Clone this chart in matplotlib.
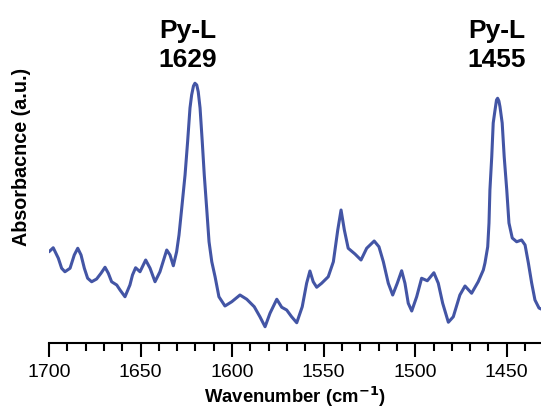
import matplotlib
matplotlib.use("Agg")
import matplotlib.pyplot as plt
from matplotlib.ticker import MultipleLocator
import matplotlib.transforms as mtransforms

plt.rcParams["font.family"] = ["Liberation Sans", "DejaVu Sans"]

# spectrum (wavenumber in cm-1, absorbance in a.u.)
wavenumber = [
    1700.0, 1697.7, 1694.9, 1693.1, 1691.3, 1688.5, 1686.2, 1684.3, 1682.5, 1680.7,
    1678.9, 1676.7, 1674.0, 1671.6, 1669.4, 1667.6, 1665.8, 1663.0, 1661.2, 1658.5,
    1655.8, 1654.4, 1652.7, 1650.3, 1647.2, 1644.8, 1642.1, 1639.4, 1635.7, 1633.9,
    1632.1, 1630.3, 1629.0, 1627.5, 1625.7, 1624.3, 1623.0, 1622.1, 1621.1, 1620.3,
    1619.3, 1618.5, 1617.5, 1616.3, 1615.2, 1613.9, 1612.6, 1611.1, 1609.3, 1607.2,
    1603.9, 1600.2, 1595.7, 1592.0, 1587.9, 1584.8, 1582.0, 1579.3, 1575.6, 1572.9,
    1570.2, 1567.5, 1564.7, 1561.7, 1559.3, 1557.5, 1555.7, 1553.8, 1551.1, 1547.5,
    1544.7, 1542.3, 1540.5, 1538.7, 1536.6, 1532.9, 1529.6, 1526.5, 1522.4, 1519.8,
    1517.4, 1514.7, 1512.3, 1509.8, 1507.4, 1505.6, 1503.8, 1501.9, 1499.2, 1496.5,
    1493.4, 1489.8, 1487.4, 1485.0, 1481.9, 1479.2, 1475.6, 1472.8, 1469.2, 1465.6,
    1462.8, 1461.9, 1460.4, 1459.7, 1459.2, 1458.2, 1457.4, 1456.4, 1455.6, 1455.0,
    1454.3, 1453.7, 1452.5, 1451.4, 1450.0, 1448.8, 1447.0, 1444.6, 1441.9, 1440.0,
    1438.2, 1436.4, 1434.6, 1432.4, 1431.3,
]
absorbance = [
    0.393, 0.409, 0.367, 0.327, 0.313, 0.327, 0.380, 0.407, 0.380, 0.327,
    0.287, 0.273, 0.284, 0.307, 0.331, 0.307, 0.273, 0.260, 0.240, 0.213,
    0.260, 0.300, 0.329, 0.313, 0.360, 0.327, 0.273, 0.313, 0.400, 0.380,
    0.337, 0.393, 0.460, 0.568, 0.700, 0.833, 0.968, 1.020, 1.056, 1.067,
    1.060, 1.033, 0.968, 0.833, 0.700, 0.568, 0.433, 0.353, 0.293, 0.213,
    0.176, 0.193, 0.220, 0.203, 0.173, 0.133, 0.093, 0.147, 0.203, 0.171,
    0.160, 0.133, 0.109, 0.173, 0.267, 0.316, 0.273, 0.251, 0.267, 0.293,
    0.353, 0.480, 0.560, 0.480, 0.407, 0.384, 0.360, 0.407, 0.436, 0.413,
    0.353, 0.267, 0.220, 0.267, 0.317, 0.267, 0.187, 0.156, 0.213, 0.287,
    0.277, 0.309, 0.267, 0.187, 0.111, 0.133, 0.220, 0.256, 0.227, 0.273,
    0.320, 0.348, 0.413, 0.508, 0.640, 0.773, 0.908, 0.960, 1.000, 1.007,
    0.996, 0.973, 0.908, 0.773, 0.640, 0.508, 0.448, 0.433, 0.440, 0.420,
    0.348, 0.268, 0.200, 0.168, 0.164,
]

peak_labels = ["Py-L\n1629", "Py-L\n1455"]
peak_positions = [1624.1, 1455.3]

fig = plt.figure(figsize=(5.41, 4.09), dpi=100)
ax = fig.add_axes([49 / 541, 66 / 409, 492 / 541, 343 / 409])

ax.plot(wavenumber, absorbance, color="#4355a5", lw=2.2,
        solid_joinstyle="round", solid_capstyle="round")

ax.set_xlim(1700, 1431.3)
ax.set_ylim(0.028, 1.4)

for s in ["top", "right", "left"]:
    ax.spines[s].set_visible(False)
ax.spines["bottom"].set_linewidth(1.5)
ax.set_yticks([])

ax.xaxis.set_major_locator(MultipleLocator(50))
ax.xaxis.set_minor_locator(MultipleLocator(10))
ax.tick_params(axis="x", which="major", direction="out", length=10, width=1.5,
               labelsize=14, pad=5)
ax.tick_params(axis="x", which="minor", direction="out", length=5.5, width=1.5)

ax.set_xlabel("Wavenumber (cm$^{\\mathbf{-1}}$)", fontsize=13.3, fontweight="bold",
              labelpad=3)
fig.text(22 / 541, 0.617, "Absorbacnce (a.u.)", rotation=90, fontsize=14.2,
         fontweight="bold", ha="center", va="center")

trans = mtransforms.blended_transform_factory(ax.transData, ax.transAxes)
for label, pos in zip(peak_labels, peak_positions):
    ax.text(pos, 0.805, label, transform=trans, ha="center", va="baseline",
            fontsize=19, fontweight="bold", linespacing=1.25,
            multialignment="center", clip_on=False)

fig.savefig("out.png", dpi=100)
